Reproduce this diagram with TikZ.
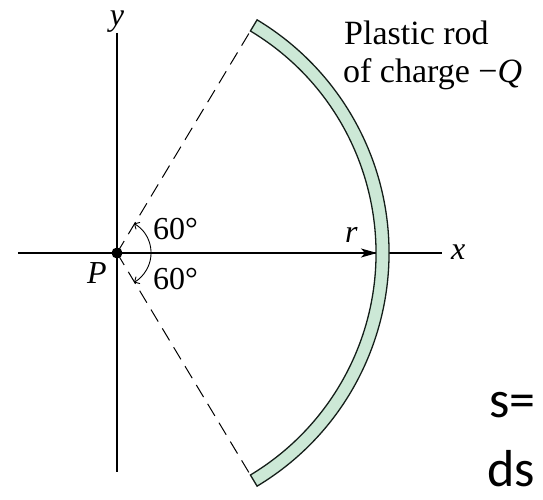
\documentclass[tikz,border=0pt]{standalone}
\usepackage{fontspec}
\setmainfont{Liberation Serif}
\newfontfamily\slidefont{Carlito}
\usepackage{tikz}
\usetikzlibrary{arrows.meta, positioning, calc}
\definecolor{rodFill}{RGB}{204,232,214}
\definecolor{rodEdge}{RGB}{20,30,25}

\begin{document}
\begin{tikzpicture}[
      x=1pt, y=1pt,
      axis/.style={line width=1.3pt, black},
      guide/.style={line width=1pt, dash pattern=on 14pt off 8pt},
      rod/.style={fill=rodFill, draw=rodEdge, line width=1.3pt, line join=miter},
      radius arrow/.style={-{Stealth[length=16pt, width=9pt, inset=4pt]}, line width=1.2pt},
      anglearc/.style={{Straight Barb[length=4pt, width=8pt]}-{Straight Barb[length=4pt, width=8pt]}, line width=0.9pt},
      lbl/.style={inner sep=0pt, font=\fontsize{32}{38}\selectfont},
      slide/.style={inner sep=0pt, font=\slidefont\fontsize{52}{60}\selectfont}
  ]
      \clip (-117,-247) rectangle (426,253);
      \coordinate (xl) at (-99,0);
      \coordinate (xr) at (325,0);
      \coordinate (yt) at (0,220);
      \coordinate (yb) at (0,-219);
      \coordinate (rodtop) at (59:259);
      \coordinate (rodbot) at (-59:259);
      \coordinate (rodmid) at (0:260);
      \draw[axis] (xl) -- (xr);
      \draw[axis] (yt) -- (yb);
      \draw[guide] (0,0) -- (rodtop);
      \draw[guide] (0,0) -- (rodbot);
      \draw[anglearc] (60:34) arc[start angle=60, end angle=-60, radius=34pt];
      \draw[radius arrow] (0,0) -- (rodmid);
      \draw[rod] (rodtop) arc[start angle=59, end angle=-59, radius=259pt] -- (-59:272) arc[start angle=-59, end angle=59, radius=272pt] -- cycle;
      \node[circle, fill=black, inner sep=0pt, minimum size=11pt] (P) at (0,0) {};
      \node[lbl, anchor=base west] (Plbl) at (-30,-31) {\textit{P}};
      \node[lbl, anchor=base] (ylbl) at (0,227) {\textit{y}};
      \node[lbl, anchor=base west] (xlbl) at (334,-7) {\textit{x}};
      \node[lbl, anchor=base west] (rlbl) at (228,10) {\textit{r}};
      \node[lbl, anchor=base west] (angup) at (36,13) {60°};
      \node[lbl, anchor=base west] (angdn) at (36,-37) {60°};
      \node[lbl, font=\fontsize{34}{40}\selectfont, anchor=base west] (rod1) at (227,208) {Plastic rod};
      \node[lbl, font=\fontsize{34}{40}\selectfont, anchor=base west] (rod2) at (226,170) {of charge −\textit{Q}};
      \node[slide, anchor=base west] (s) at (372,-164) {s=};
      \node[slide, anchor=base west] (ds) at (370,-233) {ds};
  \end{tikzpicture}
\end{document}
